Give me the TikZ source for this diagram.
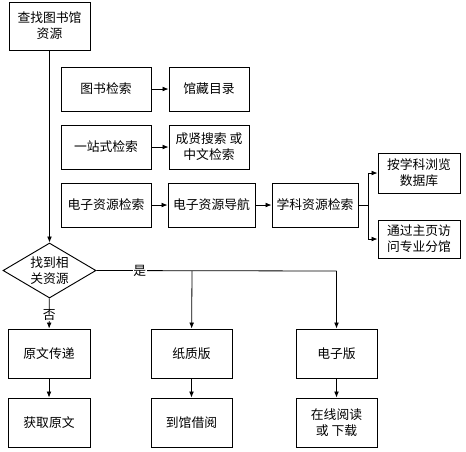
\documentclass[tikz,border=0pt]{standalone}
\usepackage{fontspec}
\setmainfont{Noto Sans CJK SC}
\usetikzlibrary{shapes.geometric,arrows.meta}
\begin{document}
\begin{tikzpicture}[x=0.75pt,y=-0.75pt,
  every node/.style={font=\fontsize{9.6pt}{12pt}\selectfont},
  box/.style={draw,line width=0.7pt,inner sep=0pt,align=center},
  arr/.style={line width=0.6pt,-{Latex[length=4.5pt,width=3.6pt]}},
  ln/.style={line width=0.6pt}]
\useasboundingbox (0,0) rectangle (466,451);
\node[box,minimum width=81*0.75pt,minimum height=48*0.75pt] (start) at (49.5,26) {查找图书馆\\资源};
\node[box,minimum width=90*0.75pt,minimum height=44*0.75pt] (tsjs) at (106,89) {图书检索};
\node[box,minimum width=80*0.75pt,minimum height=44*0.75pt] (gcml) at (209,89) {馆藏目录};
\node[box,minimum width=90*0.75pt,minimum height=44*0.75pt] (yzs) at (106,147) {一站式检索};
\node[box,minimum width=80*0.75pt,minimum height=44*0.75pt] (cxss) at (209,147) {成贤搜索 或\\中文检索};
\node[box,minimum width=90*0.75pt,minimum height=44*0.75pt] (dzjs) at (106,205) {电子资源检索};
\node[box,minimum width=87*0.75pt,minimum height=44*0.75pt] (dzdh) at (211.5,205) {电子资源导航};
\node[box,minimum width=86*0.75pt,minimum height=44*0.75pt] (xkjs) at (315,205) {学科资源检索};
\node[box,minimum width=82*0.75pt,minimum height=40*0.75pt] (axk) at (419,173) {按学科浏览\\数据库};
\node[box,minimum width=82*0.75pt,minimum height=38*0.75pt] (tgzy) at (419,239) {通过主页访\\问专业分馆};
\node[draw,line width=0.7pt,diamond,aspect=1.69,inner sep=0pt,minimum width=93*0.75pt,minimum height=55*0.75pt,align=center] (dia) at (49.5,270.5) {找到相\\关资源};
\node[box,minimum width=82*0.75pt,minimum height=49*0.75pt] (ywcd) at (49,353.5) {原文传递};
\node[box,minimum width=82*0.75pt,minimum height=49*0.75pt] (hqyw) at (49,422.5) {获取原文};
\node[box,minimum width=81*0.75pt,minimum height=49*0.75pt] (zzb) at (191.5,353.5) {纸质版};
\node[box,minimum width=81*0.75pt,minimum height=49*0.75pt] (dgjy) at (191.5,422.5) {到馆借阅};
\node[box,minimum width=81*0.75pt,minimum height=49*0.75pt] (dzb) at (336.5,353.5) {电子版};
\node[box,minimum width=81*0.75pt,minimum height=49*0.75pt] (zxyd) at (336.5,422.5) {在线阅读\\或 下载};
\coordinate (j1) at (192,271);
\coordinate (j2) at (336.5,271);
\draw[arr] (start) -- (dia);
\draw[arr] (tsjs) -- (gcml);
\draw[arr] (yzs) -- (cxss);
\draw[arr] (dzjs) -- (dzdh);
\draw[arr] (dzdh) -- (xkjs);
\draw[arr] (xkjs.east) -- ++(10,0) |- (axk.west);
\draw[arr] (xkjs.east) -- ++(10,0) |- (tgzy.west);
\draw[ln] (dia.east) -- node[pos=0.18,fill=white,inner sep=0.5pt] {是} (j2);
\draw[arr] (j1) -- (zzb);
\draw[arr] (j2) -- (dzb);
\draw[arr] (dia) -- node[pos=0.55,fill=white,inner sep=0.5pt] {否} (ywcd);
\draw[arr] (ywcd) -- (hqyw);
\draw[arr] (zzb) -- (dgjy);
\draw[arr] (dzb) -- (zxyd);
\end{tikzpicture}
\end{document}
